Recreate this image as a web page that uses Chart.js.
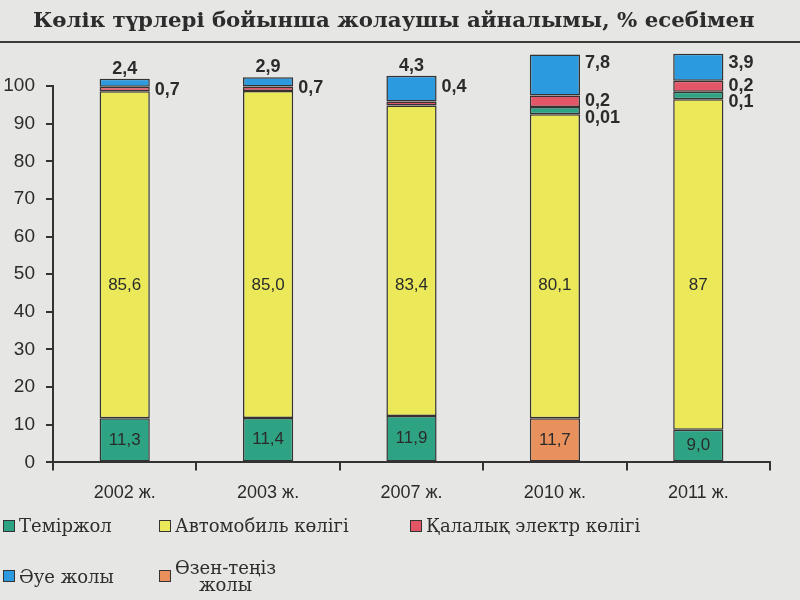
<!DOCTYPE html>
<html>
<head>
<meta charset="utf-8">
<script src="https://cdn.jsdelivr.net/npm/chart.js@4.4.1/dist/chart.umd.min.js"></script>
<style>
    body { margin: 0; background: #e6e6e4; }
    #wrap { position: relative; width: 800px; height: 600px; overflow: hidden; }
    #title {
        position: absolute; left: 33px; top: 7px;
        font: bold 21.3px "DejaVu Serif", serif; color: #2c2c2c; white-space: nowrap;
    }
    #rule { position: absolute; left: 0; top: 41px; width: 800px; height: 2px; background: #3b3b3b; }
    #legend {
        position: absolute; left: 3px; top: 517px;
        display: grid; grid-template-columns: 156px 251px 300px; row-gap: 25px;
        font: 18px "DejaVu Serif", serif; color: #2e2e2e;
    }
    .item { display: flex; align-items: center; }
    .box { width: 10px; height: 10px; border: 1px solid #333; margin-right: 4px; flex: none; }
    .txt { white-space: pre-line; text-align: center; line-height: 17px; }
</style>
</head>
<body>
<div id="wrap">
    <canvas id="chart" width="800" height="600"></canvas>
    <div id="title">Көлік түрлері бойынша жолаушы айналымы, % есебімен</div>
    <div id="rule"></div>
    <div id="legend"></div>
</div>
<script>
// Жылдар
const years = ['2002 ж.', '2003 ж.', '2007 ж.', '2010 ж.', '2011 ж.'];

// Бағаналардың суреттегі биіктіктері (%)
const railway = [11.7, 11.8, 12.3, null, 8.7];
const riverSea = [null, null, null, 11.7, null];
const road = [86.9, 86.9, 82.5, 80.8, 87.8];
const railwayTop = [null, null, null, 1.9, 2.0];
const cityElectric = [1.2, 1.2, 1.1, 3.1, 2.9];
const air = [2.1, 2.4, 6.8, 10.9, 7.2];

// Бағаналардағы жазулар
const railwayText = ['11,3', '11,4', '11,9', '', '9,0'];
const riverSeaText = ['', '', '', '11,7', ''];
const roadText = ['85,6', '85,0', '83,4', '80,1', '87'];
const railwayTopText = ['', '', '', '0,01', '0,1'];
const cityText = ['0,7', '0,7', '0,4', '0,2', '0,2'];
const airText = ['2,4', '2,9', '4,3', '7,8', '3,9'];

const yTicks = [0, 10, 20, 30, 40, 50, 60, 70, 80, 90, 100];

// Шартты белгілер
const legendNames = ['Теміржол', 'Автомобиль көлігі', 'Қалалық электр көлігі', 'Әуе жолы', 'Өзен-теңіз\nжолы'];

const GREEN = '#2ea384';
const YELLOW = '#ebe95a';
const RED = '#e25668';
const BLUE = '#2c9ade';
const ORANGE = '#e8915c';
const legendColors = [GREEN, YELLOW, RED, BLUE, ORANGE];

const INK = '#2b2b2b';
const NARROW = '"Liberation Sans Narrow", "Liberation Sans", Arial, sans-serif';
const SANS = '"Liberation Sans", Arial, sans-serif';

function makeSet(label, data, color, text, place) {
    return {
        label,
        data,
        backgroundColor: color,
        borderColor: '#363232',
        borderWidth: 1.5,
        borderSkipped: false,
        clip: false,
        valueText: text,
        place,
    };
}

/**
 * Жазуларды бағаналардың ішіне немесе жанына салады
 */
const segmentLabels = {
    id: 'segmentLabels',
    afterDatasetsDraw(chart) {
        const ctx = chart.ctx;
        const area = chart.chartArea;
        const metas = chart.data.datasets.map((ds, di) => chart.getDatasetMeta(di));

        const stackTop = (i) => {
            let top = Infinity;
            chart.data.datasets.forEach((ds, di) => {
                if (ds.data[i] != null) {
                    top = Math.min(top, metas[di].data[i].y);
                }
            });
            return top;
        };

        ctx.save();
        ctx.fillStyle = INK;
        ctx.textBaseline = 'middle';
        chart.data.datasets.forEach((ds, di) => {
            ds.valueText.forEach((text, i) => {
                if (!text) {
                    return;
                }
                const bar = metas[di].data[i];
                const top = Math.min(bar.y, bar.base);
                const bottom = Math.max(bar.y, bar.base);
                const right = bar.x + bar.width / 2 + 5;
                const side = railwayTop[i] != null;
                let x = bar.x;
                let y = (top + bottom) / 2;
                let bold = true;

                if (ds.place === 'inside') {
                    bold = false;
                } else if (ds.place === 'middle') {
                    bold = false;
                    y = (area.top + area.bottom) / 2 + 11;
                } else if (ds.place === 'air') {
                    if (side) {
                        x = right;
                        y = top + 9;
                    } else {
                        y = top - 10;
                    }
                } else if (ds.place === 'city') {
                    x = right;
                    if (!side) {
                        y = stackTop(i) + 11;
                    }
                } else if (ds.place === 'below') {
                    x = right;
                    y += 7;
                }

                ctx.textAlign = x === bar.x ? 'center' : 'left';
                ctx.font = bold ? `bold 18px ${SANS}` : `17px ${NARROW}`;
                ctx.fillText(text, x, y);
            });
        });
        ctx.restore();
    },
};

const chart = new Chart(document.getElementById('chart'), {
    type: 'bar',
    data: {
        labels: years,
        datasets: [
            makeSet('Теміржол', railway, GREEN, railwayText, 'inside'),
            makeSet('Өзен-теңіз жолы', riverSea, ORANGE, riverSeaText, 'inside'),
            makeSet('Автомобиль көлігі', road, YELLOW, roadText, 'middle'),
            makeSet('Теміржол ', railwayTop, GREEN, railwayTopText, 'below'),
            makeSet('Қалалық электр көлігі', cityElectric, RED, cityText, 'city'),
            makeSet('Әуе жолы', air, BLUE, airText, 'air'),
        ],
    },
    options: {
        responsive: false,
        animation: false,
        datasets: {
            bar: {
                barPercentage: 0.35,
                categoryPercentage: 1,
            },
        },
        layout: {
            padding: { top: 86, left: 0, right: 30, bottom: 84 },
        },
        plugins: {
            legend: { display: false },
            tooltip: { enabled: false },
        },
        scales: {
            x: {
                stacked: true,
                grid: {
                    offset: true,
                    drawOnChartArea: false,
                    tickLength: 8,
                    lineWidth: 2,
                    color: (c) => (c.index === years.length ? 'rgba(0,0,0,0)' : '#333'),
                },
                border: { color: '#333', width: 2 },
                ticks: {
                    padding: 12,
                    color: INK,
                    font: { family: SANS, size: 18 },
                },
            },
            y: {
                stacked: true,
                min: 0,
                max: 100,
                afterBuildTicks(axis) {
                    axis.ticks = yTicks.map((v) => ({ value: v }));
                },
                afterFit(axis) {
                    axis.width = 53;
                },
                grid: {
                    drawOnChartArea: false,
                    tickLength: 7,
                    lineWidth: 2,
                    color: '#333',
                },
                border: { color: '#333', width: 2 },
                ticks: {
                    padding: 11,
                    color: INK,
                    font: { family: NARROW, size: 19 },
                },
            },
        },
    },
    plugins: [segmentLabels],
});

// HTML шартты белгілер
const legend = document.getElementById('legend');
legendNames.forEach((name, i) => {
    const item = document.createElement('div');
    item.className = 'item';
    const box = document.createElement('span');
    box.className = 'box';
    box.style.background = legendColors[i];
    const txt = document.createElement('span');
    txt.className = 'txt';
    txt.textContent = name;
    item.append(box, txt);
    legend.append(item);
});
</script>
</body>
</html>
